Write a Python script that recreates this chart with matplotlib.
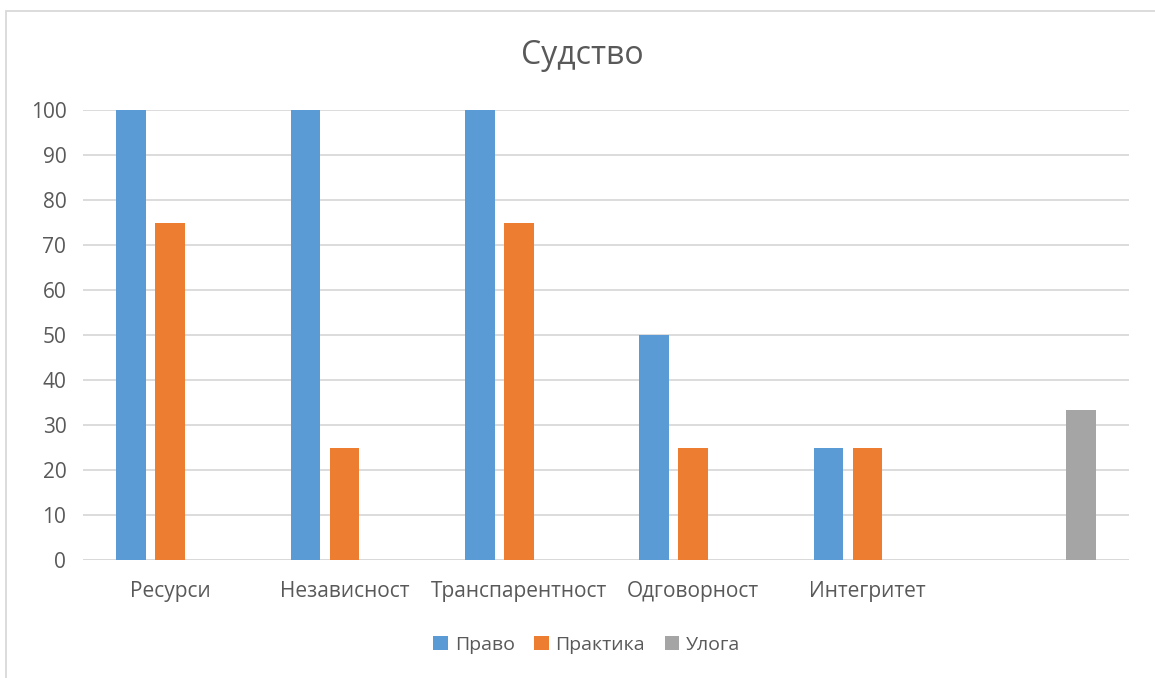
import matplotlib.pyplot as plt
from matplotlib.patches import Rectangle
import numpy as np

plt.rcParams['font.family'] = ['Open Sans', 'DejaVu Sans']

# data
categories = ['Ресурси', 'Независност', 'Транспарентност', 'Одговорност', 'Интегритет', '']
pravo = [100, 100, 100, 50, 25, 0]
praktika = [75, 25, 75, 25, 25, 0]
uloga = [0, 0, 0, 0, 0, 33.33]
series_names = ['Право', 'Практика', 'Улога']
colors = ['#5B9BD5', '#ED7D31', '#A5A5A5']
text_color = '#595959'

fig = plt.figure(figsize=(11.55, 6.78), dpi=100)
ax = fig.add_axes([83 / 1155, 1 - 560 / 678, (1129 - 83) / 1155, 450 / 678])

x = np.arange(len(categories))
width = 0.172
step = 0.2237
for i, (vals, name, c) in enumerate(zip([pravo, praktika, uloga], series_names, colors)):
    ax.bar(x + (i - 1) * step, vals, width, color=c, label=name, zorder=3)

ax.set_xlim(-0.5, len(categories) - 0.5)
ax.set_ylim(0, 100)
ax.set_yticks(range(0, 101, 10))
ax.set_xticks(x)
ax.set_xticklabels(categories)
ax.yaxis.grid(True, color='#D9D9D9', linewidth=1.3, zorder=0)
ax.tick_params(length=0, labelsize=15, colors=text_color)
ax.tick_params(axis='x', pad=15)
ax.tick_params(axis='y', pad=12)
for s in ax.spines.values():
    s.set_visible(False)
ax.axhline(0, color='#D9D9D9', linewidth=1.3, zorder=2)

fig.text(0.504, 1 - 55 / 678, 'Судство', ha='center', va='center', fontsize=23, color=text_color)

leg = fig.legend(loc='center', bbox_to_anchor=(0.508, 1 - 645 / 678), ncol=3, frameon=False,
                 fontsize=14, handlelength=0.75, handleheight=0.75, handletextpad=0.35,
                 columnspacing=1.0)
for t in leg.get_texts():
    t.set_color(text_color)

# chart border (right and bottom edges cut off in the original)
fig.patches.append(Rectangle((6 / 1155, -0.1), 1.2, 1 - 11 / 678 + 0.1,
                             transform=fig.transFigure, fill=False,
                             edgecolor='#D9D9D9', linewidth=1.3))

fig.savefig('out.png', dpi=100)
